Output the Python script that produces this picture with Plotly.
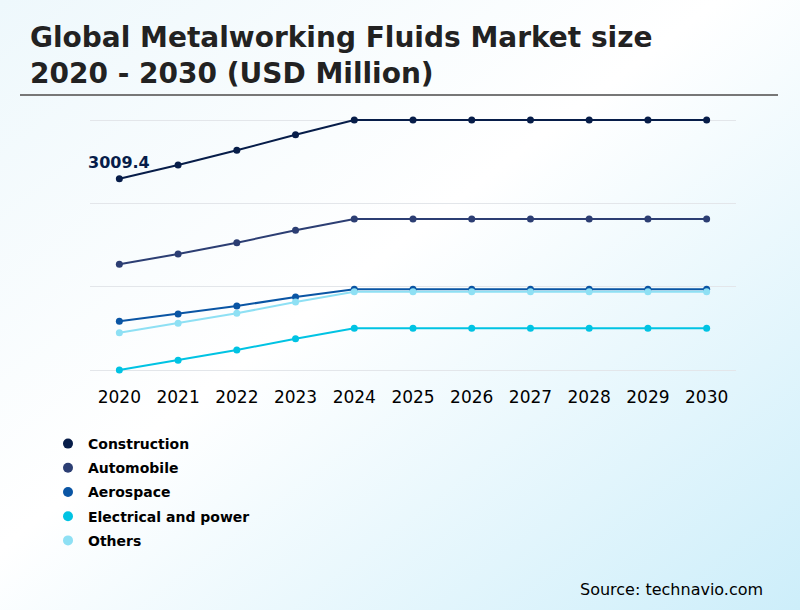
import base64
import plotly.graph_objects as go

years = ["2020", "2021", "2022", "2023", "2024", "2025", "2026", "2027", "2028", "2029", "2030"]
construction = [3009.4, 3091.6, 3179.8, 3273.4, 3361.6, 3361.6, 3361.6, 3361.6, 3361.6, 3361.6, 3361.6]
automobile = [2495.8, 2557.6, 2625.4, 2699.8, 2767.6, 2767.6, 2767.6, 2767.6, 2767.6, 2767.6, 2767.6]
aerospace = [2153.8, 2197.6, 2245.6, 2299.6, 2345.8, 2345.8, 2345.8, 2345.8, 2345.8, 2345.8, 2345.8]
electrical = [1861.6, 1919.8, 1981.6, 2049.4, 2111.8, 2111.8, 2111.8, 2111.8, 2111.8, 2111.8, 2111.8]
others = [2085.4, 2141.8, 2201.8, 2269.6, 2331.4, 2331.4, 2331.4, 2331.4, 2331.4, 2331.4, 2331.4]
grid_vals = [1860, 2360, 2860, 3360]
title_text = "Global Metalworking Fluids Market size<br>2020 - 2030 (USD Million)"

series = [
    ("Construction", construction, "#071d49"),
    ("Automobile", automobile, "#2c3e73"),
    ("Aerospace", aerospace, "#0a55a4"),
    ("Electrical and power", electrical, "#00c3e3"),
    ("Others", others, "#8ee0f4"),
]
draw_order = [0, 1, 3, 2, 4]

fig = go.Figure()
for i in draw_order:
    name, vals, col = series[i]
    fig.add_trace(go.Scatter(
        x=years, y=vals, mode="lines+markers", name=name,
        line=dict(color=col, width=2), marker=dict(color=col, size=7),
        showlegend=False,
    ))
for i, (name, vals, col) in enumerate(series):
    fig.add_trace(go.Scatter(
        x=[None], y=[None], mode="markers", name=name,
        marker=dict(color=col, size=10), legendgroup=f"g{i}", showlegend=True,
    ))

svg = ('<svg xmlns="http://www.w3.org/2000/svg" width="800" height="610" viewBox="0 0 800 610" preserveAspectRatio="none">'
       '<defs><linearGradient id="g" x1="0" y1="0" x2="1" y2="1">'
       '<stop offset="0" stop-color="#eef8fc"/><stop offset="0.45" stop-color="#ffffff"/>'
       '<stop offset="1" stop-color="#cdeefa"/></linearGradient></defs>'
       '<rect width="800" height="610" fill="url(#g)"/></svg>')
src = "data:image/svg+xml;base64," + base64.b64encode(svg.encode()).decode()

fig.update_layout(
    width=800, height=610,
    margin=dict(l=0, r=0, t=0, b=0),
    paper_bgcolor="rgba(0,0,0,0)", plot_bgcolor="rgba(0,0,0,0)",
    font=dict(family="DejaVu Sans", color="#000000"),
    images=[dict(source=src, xref="paper", yref="paper", x=0, y=1, sizex=1, sizey=1,
                 sizing="stretch", layer="below", xanchor="left", yanchor="top")],
    xaxis=dict(type="category", domain=[90 / 800, 736 / 800], showgrid=False, zeroline=False,
               showline=False, ticks="", tickfont=dict(size=17, color="#000000", family="DejaVu Sans"),
               range=[-0.5, 10.5], fixedrange=True),
    yaxis=dict(domain=[(610 - 385) / 610, (610 - 105) / 610], range=[1771.6, 3451.6],
               tickmode="array", tickvals=grid_vals, showticklabels=False, fixedrange=True,
               showgrid=True, gridcolor="#e3e6ea", gridwidth=1, zeroline=False, showline=False),
    legend=dict(x=48 / 800, y=1 - 428 / 610, xanchor="left", yanchor="top",
                font=dict(size=14, color="#000000", family="DejaVu Sans", weight="bold"),
                bgcolor="rgba(0,0,0,0)", tracegroupgap=3, traceorder="grouped"),
    showlegend=True,
)

fig.add_annotation(xref="paper", yref="paper", x=28 / 800, y=1 - 56 / 610,
                   xanchor="left", yanchor="middle", align="left", showarrow=False,
                   text=title_text,
                   font=dict(size=28, color="#222222", family="DejaVu Sans", weight="bold"))
fig.add_shape(type="line", xref="paper", yref="paper", x0=20 / 800, x1=778 / 800,
              y0=1 - 95 / 610, y1=1 - 95 / 610, line=dict(color="#777777", width=2))
fig.add_annotation(x=years.index(years[0]), y=construction[0], text="3009.4", showarrow=False,
                   yshift=16, font=dict(size=16, color="#071d49", family="DejaVu Sans", weight="bold"))
fig.add_annotation(xref="paper", yref="paper", x=765 / 800, y=1 - 589 / 610,
                   xanchor="right", yanchor="middle", showarrow=False,
                   text="Source: technavio.com",
                   font=dict(size=16, color="#000000", family="DejaVu Sans"))

fig.write_html("out.html", config={"displayModeBar": False},
               post_script="document.body.style.margin='0';")
